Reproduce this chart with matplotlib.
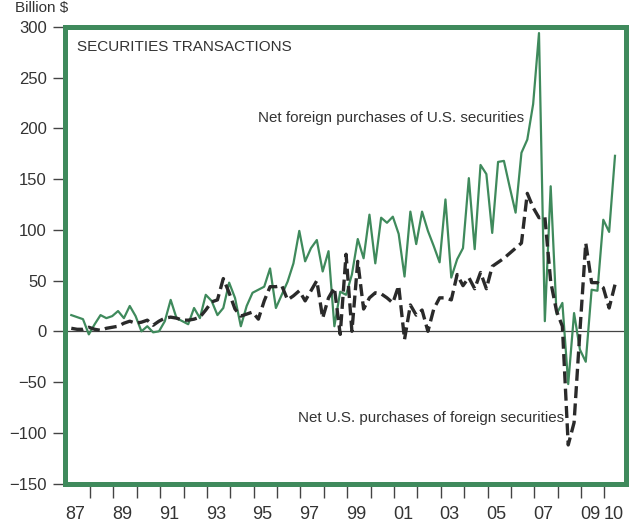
import matplotlib
import matplotlib.pyplot as plt
import numpy as np

matplotlib.use("Agg")
plt.rcParams["font.family"] = ["Liberation Sans", "DejaVu Sans"]

# quarterly data, 1987Q1 .. 2010Q2, billion $
foreign_buying_us = [
    16, 14, 12, -3, 7, 16, 13, 15, 20, 13, 25, 15, 0, 5, -1, 0, 10, 31, 13, 10, 7, 23,
    13, 36, 30, 16, 23, 48, 33, 5, 25, 38, 41, 44, 62, 23, 36, 49, 67, 99, 69, 82, 90,
    59, 79, 5, 39, 36, 56, 91, 72, 115, 67, 112, 107, 113, 96, 54, 118, 86, 118, 99, 84, 68, 130,
    53, 71, 82, 151, 81, 164, 155, 97, 167, 168, 142, 117, 176, 189, 224, 294,
    10, 143, 17, 28, -52, 18, -18, -30, 41, 40, 110, 98, 173,
]
us_buying_foreign = [
    3, 2, 2, 4, 2, 1, 3, 4, 5, 8,
    10, 8, 9, 11, 6, 10, 13, 14, 13, 11,
    11, 12, 14, 21, 29, 31, 52, 38, 22, 15,
    17, 19, 12, 30, 44, 44, 45, 31, 35, 40,
    30, 40, 50, 13, 33, 43, -3, 76, 0, 69,
    22, 33, 38, 37, 33, 28, 45, -8, 26, 16,
    21, 0, 22, 33, 33, 31, 56, 45, 53, 42,
    58, 42, 64, 68, 72, 77, 82, 87, 136, 122,
    112, 113, 49, 20, 5, -112, -90, 0, 87, 48,
    48, 43, 23, 46,
]
quarters = 1987.2 + np.arange(len(foreign_buying_us)) / 4

year_labels = ["87", "89", "91", "93", "95", "97", "99", "01", "03", "05", "07", "09", "10"]
label_years = [1987, 1989, 1991, 1993, 1995, 1997, 1999, 2001, 2003, 2005, 2007, 2009, 2010]
y_ticks = [-150, -100, -50, 0, 50, 100, 150, 200, 250, 300]

GREEN = "#3f8a5c"
TEXT = "#333333"

fig = plt.figure(figsize=(6.29, 5.29), dpi=100)
ax = fig.add_axes([0.1033, 0.086, 0.8919, 0.863])

ax.axhline(0, color="#444444", lw=0.9, zorder=1)
ax.plot(quarters, foreign_buying_us, color=GREEN, lw=1.6, zorder=2)
ax.plot(quarters, us_buying_foreign, color="#2a2a2a", lw=2.4, ls=(0, (3.6, 1.6)), zorder=3)

ax.set_xlim(1986.93, 2010.92)
ax.set_ylim(-150, 300)

for side in ["left", "right", "top", "bottom"]:
    ax.spines[side].set_color(GREEN)
    ax.spines[side].set_linewidth(3.6)

ax.set_yticks(y_ticks)
ax.set_yticklabels([f"\u2212{-v}" if v < 0 else str(v) for v in y_ticks])
ax.tick_params(axis="y", direction="out", length=9, width=1, color="#444444",
               pad=4, labelsize=12, labelcolor=TEXT)

ax.set_xticks(np.arange(1988, 2011))
ax.set_xticklabels([])
ax.set_xticks([y + 0.38 for y in label_years], minor=True)
ax.set_xticklabels(year_labels, minor=True)
ax.tick_params(axis="x", which="major", direction="out", length=10, width=1, color="#444444")
ax.tick_params(axis="x", which="minor", length=0, pad=16, labelsize=13, labelcolor=TEXT)

ax.text(0.021, 0.956, "SECURITIES TRANSACTIONS", transform=ax.transAxes,
        fontsize=11, color=TEXT, va="center", ha="left")
ax.text(0.344, 0.80, "Net foreign purchases of U.S. securities", transform=ax.transAxes,
        fontsize=10.9, color=TEXT, va="center", ha="left")
ax.text(0.415, 0.1435, "Net U.S. purchases of foreign securities", transform=ax.transAxes,
        fontsize=10.9, color=TEXT, va="center", ha="left")
fig.text(15 / 629, 1 - 12 / 529, "Billion $", fontsize=11, color=TEXT, va="baseline", ha="left")

fig.savefig("out.png", dpi=100)
